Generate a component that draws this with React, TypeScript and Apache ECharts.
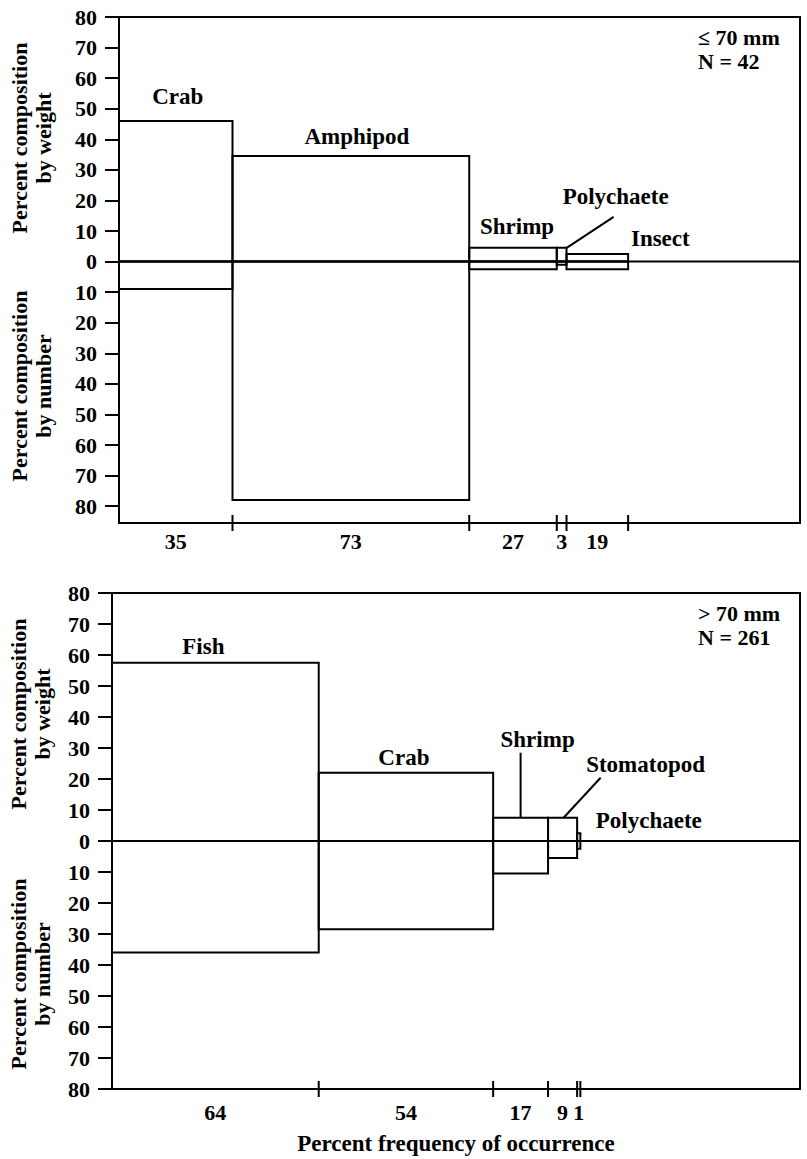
import React, { useEffect, useRef } from "react";
import * as echarts from "echarts";

// ---- Data: fish <= 70 mm (N = 42)
const smallCategories = ["Crab", "Amphipod", "Shrimp", "Polychaete", "Insect"];
const smallFrequency = [35, 73, 27, 3, 19];
const smallWeight = [46, 34.5, 4.5, 4.5, 2.5];
const smallNumber = [9, 78, 2.5, 1, 2.5];

// ---- Data: fish > 70 mm (N = 261)
const largeCategories = ["Fish", "Crab", "Shrimp", "Stomatopod", "Polychaete"];
const largeFrequency = [64, 54, 17, 9, 1];
const largeWeight = [57.5, 22, 7.5, 7.5, 2.5];
const largeNumber = [36, 28.5, 10.5, 5.5, 2.5];

const yTickValues = [-80, -70, -60, -50, -40, -30, -20, -10, 0, 10, 20, 30, 40, 50, 60, 70, 80];

// ---- Label placement (pixel offsets from each box's top centre)
type LabelPlace = { dx: number; dy: number; leader?: [number, number, number, number] };
const smallLabelPlace: LabelPlace[] = [
  { dx: 2, dy: -24 },
  { dx: 6, dy: -20 },
  { dx: 4, dy: -21 },
  { dx: 54, dy: -51, leader: [52, -31, 5, 0] },
  { dx: 63, dy: -15 },
];
const largeLabelPlace: LabelPlace[] = [
  { dx: -12, dy: -16 },
  { dx: -2, dy: -15 },
  { dx: 17, dy: -78, leader: [0, -65, 0, 0] },
  { dx: 83, dy: -53, leader: [38, -40, 1, 0] },
  { dx: 70, dy: -13 },
];

const FONT_FAMILY = '"Liberation Serif", "Times New Roman", serif';
const BLACK = "#000";

function buildItems(freq: number[], weight: number[], number: number[]) {
  let acc = 0;
  return freq.map((f, i) => {
    const x0 = acc;
    acc += f;
    return [x0, acc, weight[i], number[i]];
  });
}

function mids(freq: number[]) {
  let acc = 0;
  return freq.map((f) => {
    const m = acc + f / 2;
    acc += f;
    return m;
  });
}

function makeRenderItem(names: string[], places: LabelPlace[], yMin: number) {
  return (params: any, api: any) => {
    const i = params.dataIndex;
    const x0 = api.value(0);
    const x1 = api.value(1);
    const w = api.value(2);
    const n = api.value(3);
    const tl = api.coord([x0, w]);
    const br = api.coord([x1, -n]);
    const z = api.coord([x0, 0]);
    const axisY = api.coord([x1, yMin])[1];
    const xl = tl[0];
    const xr = br[0];
    const cx = (xl + xr) / 2;
    const ty = tl[1];
    const lineStyle = { fill: "none", stroke: BLACK, lineWidth: 2 };
    const place = places[i];
    const children: any[] = [
      { type: "rect", shape: { x: xl, y: tl[1], width: xr - xl, height: z[1] - tl[1] }, style: lineStyle },
      { type: "rect", shape: { x: xl, y: z[1], width: xr - xl, height: br[1] - z[1] }, style: lineStyle },
      { type: "line", shape: { x1: xr, y1: axisY - 8, x2: xr, y2: axisY + 8 }, style: { stroke: BLACK, lineWidth: 2 } },
      {
        type: "text",
        x: cx + place.dx,
        y: ty + place.dy,
        style: {
          text: names[i],
          fill: BLACK,
          font: `bold 23px ${FONT_FAMILY}`,
          align: "center",
          verticalAlign: "middle",
        },
      },
    ];
    if (place.leader) {
      const [a, b, c, d] = place.leader;
      children.push({
        type: "line",
        shape: { x1: cx + a, y1: ty + b, x2: cx + c, y2: ty + d },
        style: { stroke: BLACK, lineWidth: 2 },
      });
    }
    return { type: "group", children };
  };
}

export default function App() {
  const ref = useRef<HTMLDivElement>(null);

  useEffect(() => {
    document.body.style.margin = "0";
    if (!ref.current) return;
    const chart = echarts.init(ref.current, null, { renderer: "svg" });

    const smallItems = buildItems(smallFrequency, smallWeight, smallNumber);
    const largeItems = buildItems(largeFrequency, largeWeight, largeNumber);
    const smallMids = mids(smallFrequency);
    const largeMids = mids(largeFrequency);

    const smallYMin = -85.5;
    const largeYMin = -80;

    const labelFont = {
      color: BLACK,
      fontFamily: FONT_FAMILY,
      fontWeight: "bold" as const,
      fontSize: 22,
    };

    const yAxisBase = (gridIndex: number, min: number) => ({
      type: "value",
      gridIndex,
      min,
      max: 80,
      axisLine: { show: true, lineStyle: { color: BLACK, width: 2 } },
      axisTick: { show: true, customValues: yTickValues, length: 14, lineStyle: { color: BLACK, width: 2 } },
      axisLabel: {
        ...labelFont,
        customValues: yTickValues,
        margin: 22,
        formatter: (v: number) => String(Math.abs(v)),
      },
      splitLine: { show: false },
    });

    const xAxisBase = (gridIndex: number, max: number, m: number[], freq: number[], margin: number) => ({
      type: "value",
      gridIndex,
      min: 0,
      max,
      axisLine: { show: true, onZero: false, lineStyle: { color: BLACK, width: 2 } },
      axisTick: { show: false },
      axisLabel: {
        ...labelFont,
        customValues: m,
        margin,
        formatter: (v: number) => {
          const idx = m.findIndex((x) => Math.abs(x - v) < 1e-6);
          return idx >= 0 ? String(freq[idx]) : "";
        },
      },
      splitLine: { show: false },
    });

    const gridBase = {
      show: true,
      borderColor: BLACK,
      borderWidth: 2,
      backgroundColor: "transparent",
      containLabel: false,
      outerBoundsMode: "none",
    };

    const titleText = (x: number, y: number, text: string) => ({
      type: "text",
      x,
      y,
      rotation: Math.PI / 2,
      style: {
        text,
        fill: BLACK,
        font: `bold 22px ${FONT_FAMILY}`,
        align: "center",
        verticalAlign: "middle",
        lineHeight: 24,
      },
    });

    const noteText = (y: number, text: string) => ({
      type: "text",
      x: 698,
      y,
      style: {
        text,
        fill: BLACK,
        font: `bold 22px ${FONT_FAMILY}`,
        align: "left",
        verticalAlign: "middle",
      },
    });

    chart.setOption({
      animation: false,
      backgroundColor: "#fff",
      grid: [
        { ...gridBase, left: 119, top: 17, width: 681, height: 506 },
        { ...gridBase, left: 112, top: 593, width: 688, height: 496 },
      ],
      xAxis: [xAxisBase(0, 210, smallMids, smallFrequency, 7), xAxisBase(1, 213, largeMids, largeFrequency, 12)],
      yAxis: [yAxisBase(0, smallYMin), yAxisBase(1, largeYMin)],
      graphic: [
        titleText(31, 138, "Percent composition\nby weight"),
        titleText(31, 386, "Percent composition\nby number"),
        titleText(30, 714, "Percent composition\nby weight"),
        titleText(30, 974, "Percent composition\nby number"),
        noteText(37, "\u2264 70 mm"),
        noteText(61, "N = 42"),
        noteText(613, "> 70 mm"),
        noteText(637, "N = 261"),
        {
          type: "text",
          x: 456,
          y: 1143,
          style: {
            text: "Percent frequency of occurrence",
            fill: BLACK,
            font: `bold 23px ${FONT_FAMILY}`,
            align: "center",
            verticalAlign: "middle",
          },
        },
      ],
      series: [
        {
          type: "line",
          xAxisIndex: 0,
          yAxisIndex: 0,
          data: [[0, 0], [210, 0]],
          symbol: "none",
          lineStyle: { color: BLACK, width: 2 },
          silent: true,
        },
        {
          type: "line",
          xAxisIndex: 1,
          yAxisIndex: 1,
          data: [[0, 0], [213, 0]],
          symbol: "none",
          lineStyle: { color: BLACK, width: 2 },
          silent: true,
        },
        {
          type: "custom",
          xAxisIndex: 0,
          yAxisIndex: 0,
          data: smallItems,
          encode: { x: [0, 1], y: [2] },
          clip: false,
          silent: true,
          renderItem: makeRenderItem(smallCategories, smallLabelPlace, smallYMin),
        },
        {
          type: "custom",
          xAxisIndex: 1,
          yAxisIndex: 1,
          data: largeItems,
          encode: { x: [0, 1], y: [2] },
          clip: false,
          silent: true,
          renderItem: makeRenderItem(largeCategories, largeLabelPlace, largeYMin),
        },
      ],
    });

    return () => {
      chart.dispose();
    };
  }, []);

  return <div ref={ref} style={{ width: 807, height: 1159 }} />;
}
